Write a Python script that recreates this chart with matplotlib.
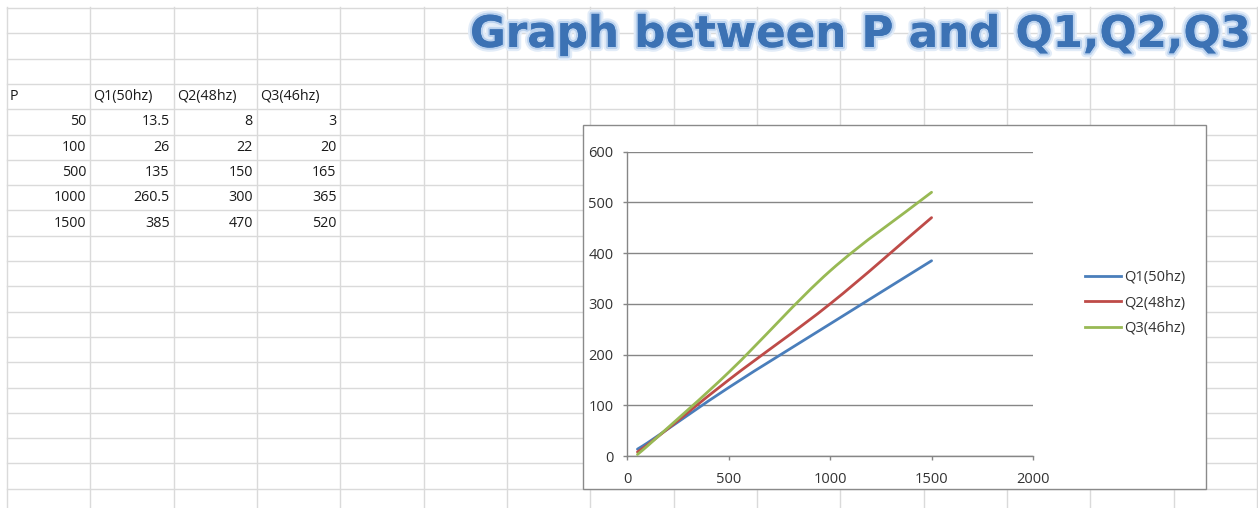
import matplotlib
matplotlib.use("Agg")
import matplotlib.pyplot as plt
from matplotlib.path import Path
from matplotlib.patches import PathPatch, Rectangle
from matplotlib.lines import Line2D
import matplotlib.patheffects as pe

# ---------------- data ----------------
P = [50, 100, 500, 1000, 1500]
Q1 = [13.5, 26, 135, 260.5, 385]
Q2 = [8, 22, 150, 300, 470]
Q3 = [3, 20, 165, 365, 520]
headers = ["P", "Q1(50hz)", "Q2(48hz)", "Q3(46hz)"]
series_labels = ["Q1(50hz)", "Q2(48hz)", "Q3(46hz)"]
title = "Graph between P and Q1,Q2,Q3"
x_ticks = [0, 500, 1000, 1500, 2000]
y_ticks = [0, 100, 200, 300, 400, 500, 600]

plt.rcParams['font.family'] = ['Open Sans', 'DejaVu Sans']

W, H = 1258, 508
fig = plt.figure(figsize=(W / 100, H / 100), dpi=100)
fig.patch.set_facecolor('white')

# background "spreadsheet" layer in pixel coordinates
bg = fig.add_axes([0, 0, 1, 1])
bg.set_xlim(0, W)
bg.set_ylim(H, 0)
bg.axis('off')

grid_c = '#dadada'
col_x0, col_w = 7, 83.33
row_y0, row_h = 8, 25.3
ncols = 16
nrows = 20
for i in range(ncols):
    x = col_x0 + i * col_w
    bg.plot([x, x], [col_x0, H], color=grid_c, lw=1, zorder=1)
for j in range(nrows):
    y = row_y0 + j * row_h
    bg.plot([col_x0, W], [y, y], color=grid_c, lw=1, zorder=1)

# table cells
txt_kw = dict(fontsize=10.3, color='#1a1a1a', va='center', zorder=2)
hdr_row = 3
for c, h in enumerate(headers):
    bg.text(col_x0 + c * col_w + 3, row_y0 + (hdr_row + 0.5) * row_h, h,
            ha='left', **txt_kw)
cols = [P, Q1, Q2, Q3]
for r in range(len(P)):
    yc = row_y0 + (hdr_row + 1 + r + 0.5) * row_h
    for c, colvals in enumerate(cols):
        bg.text(col_x0 + (c + 1) * col_w - 4, yc, f"{colvals[r]:g}",
                ha='right', **txt_kw)

# title (WordArt-like)
bg.text(470, 47, title, fontsize=31.4, fontweight='bold', family='DejaVu Sans',
        color='#3c72b4', va='baseline', ha='left', zorder=2,
        path_effects=[pe.withStroke(linewidth=6, foreground='#e2ecf8'),
                      pe.withStroke(linewidth=3, foreground='#b9d1ee'),
                      pe.Normal()])

# chart box
bg.add_patch(Rectangle((582.5, 125), 623.5, 364, facecolor='white',
                       edgecolor='#8a8a8a', lw=1, zorder=3))

# ---------------- chart ----------------
ax_l, ax_r, ax_t, ax_b = 627.3, 1033, 151.7, 456
ax = fig.add_axes([ax_l / W, (H - ax_b) / H, (ax_r - ax_l) / W, (ax_b - ax_t) / H])
ax.set_facecolor('none')
ax.set_xlim(0, 2000)
ax.set_ylim(0, 600)
ax.set_xticks(x_ticks)
ax.set_yticks(y_ticks)
for s in ['top', 'right']:
    ax.spines[s].set_visible(False)
for s in ['left', 'bottom']:
    ax.spines[s].set_color('#868686')
    ax.spines[s].set_linewidth(1)
ax.grid(axis='y', color='#868686', lw=1)
ax.set_axisbelow(True)
ax.tick_params(axis='both', colors='#868686', labelcolor='#333333',
               length=3, width=1, labelsize=10.5)
ax.tick_params(axis='y', pad=7)
ax.tick_params(axis='x', pad=8.5)


def smooth_path(xs, ys):
    n = len(xs)
    m = []
    for i in range(n):
        if i == 0:
            m.append((ys[1] - ys[0]) / (xs[1] - xs[0]))
        elif i == n - 1:
            m.append((ys[-1] - ys[-2]) / (xs[-1] - xs[-2]))
        else:
            m.append((ys[i + 1] - ys[i - 1]) / (xs[i + 1] - xs[i - 1]))
    verts = [(xs[0], ys[0])]
    codes = [Path.MOVETO]
    for i in range(n - 1):
        dx = xs[i + 1] - xs[i]
        verts += [(xs[i] + dx / 3, ys[i] + m[i] * dx / 3),
                  (xs[i + 1] - dx / 3, ys[i + 1] - m[i + 1] * dx / 3),
                  (xs[i + 1], ys[i + 1])]
        codes += [Path.CURVE4] * 3
    return Path(verts, codes)


colors = ['#4a7ebb', '#be4b48', '#98b954']
lw = 2.0
handles = []
for vals, col, lab in zip([Q1, Q2, Q3], colors, series_labels):
    ax.add_patch(PathPatch(smooth_path(P, vals), facecolor='none', edgecolor=col,
                           lw=lw, zorder=3, capstyle='round'))
    handles.append(Line2D([], [], color=col, lw=lw, label=lab))

ax.legend(handles=handles, loc='center left',
          bbox_to_anchor=(1085 / W, (H - 303) / H), bbox_transform=fig.transFigure,
          frameon=False, borderpad=0, borderaxespad=0, handlelength=2.5,
          handletextpad=0.15, labelspacing=0.7, fontsize=10.5,
          labelcolor='#333333')

fig.savefig('out.png', dpi=100, facecolor='white')
